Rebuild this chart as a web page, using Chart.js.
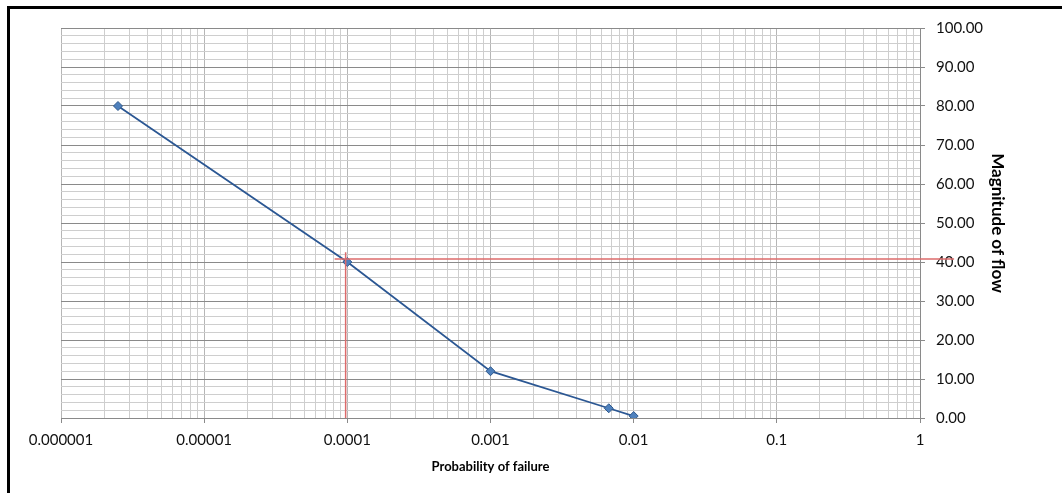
<!DOCTYPE html>
<html>
<head>
<meta charset="utf-8">
<script src="https://cdn.jsdelivr.net/npm/chart.js@4"></script>
<style>
  html, body { margin: 0; padding: 0; background: #fff; overflow: hidden; }
  #wrap { position: relative; width: 1062px; height: 493px; }
  #frame { position: absolute; left: 7px; top: 6px; right: 0; bottom: 0;
           border-top: 3px solid #000; border-left: 3px solid #000; pointer-events: none; }
</style>
</head>
<body>
<div id="wrap">
  <canvas id="flowChart" width="1062" height="493"></canvas>
  <div id="frame"></div>
</div>
<script>
// data
const probability = [0.0000025, 0.0001, 0.001, 0.0067, 0.01];
const magnitude = [80, 40, 12, 2.5, 0.5];

// red guide lines (read-off at about 0.0001 / 40)
const guideHorizX = [0.0000815, 1.73];
const guideHorizY = [40.8, 40.8];
const guideVertX = [0.0000973, 0.0000973];
const guideVertY = [42.5, 0];

// axis ticks
const xTickValues = [0.000001, 0.00001, 0.0001, 0.001, 0.01, 0.1, 1];
const xTickLabels = ['0.000001', '0.00001', '0.0001', '0.001', '0.01', '0.1', '1'];
const yTickValues = [0, 10, 20, 30, 40, 50, 60, 70, 80, 90, 100];
const yTickLabels = ['0.00', '10.00', '20.00', '30.00', '40.00', '50.00', '60.00', '70.00', '80.00', '90.00', '100.00'];

const majorGrid = '#8a8a8a';
const decadeGrid = '#b6b6b6';
const minorGrid = '#cecece';
const guideRed = '#dc6b6b';

function toPoints(xs, ys) {
    return xs.map(function (x, i) { return { x: x, y: ys[i] }; });
}

const ctx = document.getElementById('flowChart').getContext('2d');
const flowChart = new Chart(ctx, {
    type: 'scatter',
    data: {
        datasets: [{
            label: 'Flow',
            data: toPoints(probability, magnitude),
            showLine: true,
            borderColor: '#2b5793',
            borderWidth: 1.8,
            pointStyle: 'rectRot',
            pointRadius: 4.5,
            pointBackgroundColor: '#4f81bd',
            pointBorderColor: '#30598c',
            pointBorderWidth: 1,
            order: 1
        }, {
            label: 'guide h',
            data: toPoints(guideHorizX, guideHorizY),
            showLine: true,
            borderColor: guideRed,
            borderWidth: 1.5,
            pointRadius: 0,
            clip: false,
            order: 0
        }, {
            label: 'guide v',
            data: toPoints(guideVertX, guideVertY),
            showLine: true,
            borderColor: guideRed,
            borderWidth: 1.5,
            pointRadius: 0,
            clip: false,
            order: 0
        }]
    },
    options: {
        responsive: false,
        animation: false,
        layout: { padding: { left: 61, top: 28, right: 52, bottom: 14 } },
        plugins: {
            legend: { display: false },
            tooltip: { enabled: false }
        },
        scales: {
            x: {
                type: 'logarithmic',
                min: 0.000001,
                max: 1,
                afterBuildTicks: function (scale) {
                    const ticks = [];
                    xTickValues.forEach(function (v, i) {
                        ticks.push({ value: v });
                        if (i < xTickValues.length - 1) {
                            for (let m = 2; m <= 9; m++) ticks.push({ value: v * m });
                        }
                    });
                    scale.ticks = ticks;
                },
                afterFit: function (scale) { scale.height = 61; },
                grid: {
                    color: function (c) { return xTickValues.includes(c.tick.value) ? decadeGrid : minorGrid; },
                    tickColor: function (c) { return xTickValues.includes(c.tick.value) ? majorGrid : 'rgba(0,0,0,0)'; },
                    tickLength: 5,
                    lineWidth: 1
                },
                border: { color: majorGrid, width: 1 },
                ticks: {
                    autoSkip: false,
                    maxRotation: 0,
                    padding: 8,
                    color: '#111',
                    font: { family: 'Lato, Calibri, sans-serif', size: 15 },
                    callback: function (value) {
                        const i = xTickValues.indexOf(value);
                        return i >= 0 ? xTickLabels[i] : '';
                    }
                },
                title: {
                    display: true,
                    text: 'Probability of failure',
                    color: '#000',
                    padding: { top: 4, bottom: 4 },
                    font: { family: 'Lato, Calibri, sans-serif', size: 13, weight: 'bold' }
                }
            },
            y: {
                position: 'right',
                min: 0,
                max: 100,
                afterFit: function (scale) { scale.width = 90; },
                grid: {
                    color: function (c) { return Math.round(c.tick.value) % 10 === 0 ? majorGrid : minorGrid; },
                    tickColor: function (c) { return Math.round(c.tick.value) % 10 === 0 ? majorGrid : 'rgba(0,0,0,0)'; },
                    tickLength: 5,
                    lineWidth: 1
                },
                border: { color: majorGrid, width: 1 },
                ticks: {
                    stepSize: 2,
                    autoSkip: false,
                    padding: 11,
                    color: '#111',
                    font: { family: 'Lato, Calibri, sans-serif', size: 15 },
                    callback: function (value) {
                        const i = yTickValues.indexOf(Math.round(value));
                        return (i >= 0 && Math.abs(value - yTickValues[i]) < 1e-6) ? yTickLabels[i] : '';
                    }
                },
                title: {
                    display: true,
                    text: 'Magnitude of flow',
                    color: '#000',
                    padding: { top: 2, bottom: 2 },
                    font: { family: 'Lato, Calibri, sans-serif', size: 17, weight: 'bold' }
                }
            }
        }
    }
});
</script>
</body>
</html>
